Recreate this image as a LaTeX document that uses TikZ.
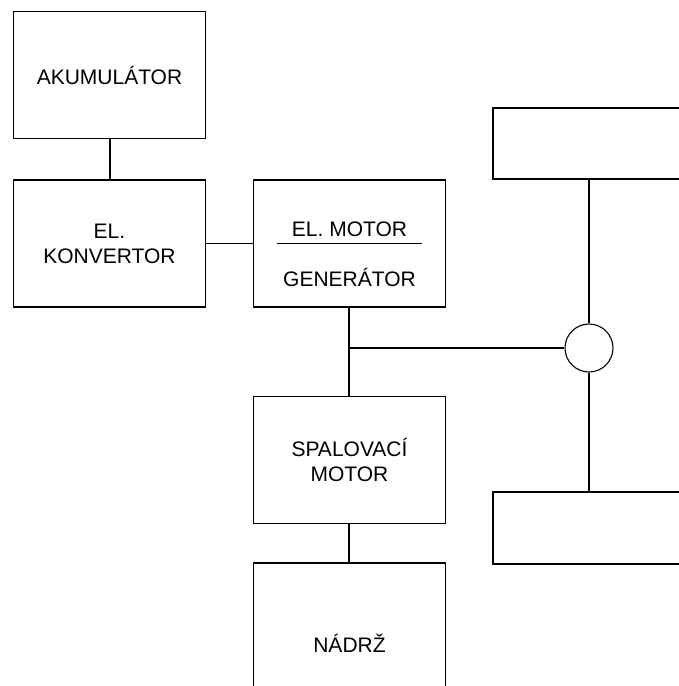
\documentclass[tikz,border=0pt]{standalone}
\usepackage{fontspec}
\setmainfont{Liberation Sans}
\begin{document}
\begin{tikzpicture}[x=1pt,y=-1pt,
  box/.style={draw,line width=1.1pt,minimum width=192pt,minimum height=127pt,inner sep=0pt,align=center,
    font=\fontsize{21pt}{25pt}\selectfont},
  wbox/.style={draw,line width=1.7pt,minimum width=220pt,inner sep=0pt},
  conn/.style={line width=1.1pt}]
\useasboundingbox (0,0) rectangle (679,686);
\clip (0,0) rectangle (679,686);
\node[box] (ak) at (109.5,75) {AKUMULÁTOR};
\node[box] (ko) at (109.5,243.5) {EL.\\KONVERTOR};
\node[box] (mg) at (349.5,243.5) {};
\node[font=\fontsize{21pt}{25pt}\selectfont,inner sep=0pt] (mgt) at (349.5,229) {EL. MOTOR};
\node[font=\fontsize{21pt}{25pt}\selectfont,inner sep=0pt] (mgb) at (349.5,277) {GENERÁTOR};
\draw[conn] ([xshift=-72.5pt]mg.center) -- ([xshift=72.5pt]mg.center);
\node[box] (sp) at (349.5,460) {SPALOVACÍ\\MOTOR};
\node[box,minimum height=160pt] (nd) at (349.5,643) {NÁDRŽ};
\node[wbox,minimum height=71pt] (wt) at (603,143.5) {};
\node[wbox,minimum height=72pt] (wb) at (603,528) {};
\node[draw,circle,line width=1.1pt,minimum size=48pt,inner sep=0pt] (ci) at (589,348) {};
\coordinate (jn) at (349,348);
\draw[conn] (ak.south -| 110,0) -- (ko.north -| 110,0);
\draw[conn] (ko.east) -- (mg.west);
\draw[conn] (mg.south -| jn) -- (sp.north -| jn);
\draw[conn] (jn) -- (ci.west);
\draw[conn] (sp.south -| jn) -- (nd.north -| jn);
\draw[conn] (wt.south -| ci) -- (ci.north);
\draw[conn] (ci.south) -- (wb.north -| ci);
\end{tikzpicture}
\end{document}
